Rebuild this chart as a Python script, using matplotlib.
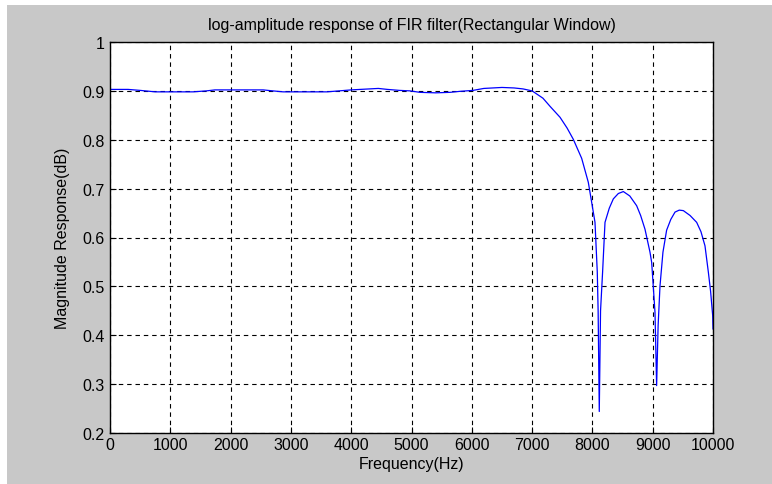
import matplotlib
matplotlib.use("Agg")
import matplotlib.pyplot as plt
from matplotlib.patches import Rectangle

plt.rcParams['font.family'] = ['Liberation Sans', 'DejaVu Sans']

freq = [0, 300, 500, 750, 1000, 1380, 1600, 1740, 2000, 2540, 2700, 2870, 3000, 3600,
        3800, 4000, 4300, 4450, 4600, 4800, 4975, 5140, 5400, 5640, 5800, 6020, 6200,
        6500, 6700, 6850, 7000, 7180, 7300, 7463, 7580, 7683, 7822, 7932, 7988, 8043,
        8071, 8081, 8095, 8114, 8135, 8169, 8209, 8280, 8347, 8430, 8513, 8620, 8734,
        8800, 8872, 8955, 8983, 9038, 9065, 9090, 9121, 9170, 9231, 9300, 9370, 9440,
        9508, 9620, 9729, 9800, 9867, 9923, 9960, 9995, 10000]
mag = [0.903, 0.903, 0.901, 0.898, 0.898, 0.898, 0.900, 0.902, 0.902, 0.902, 0.900,
       0.898, 0.898, 0.898, 0.900, 0.902, 0.904, 0.905, 0.903, 0.901, 0.900, 0.897,
       0.896, 0.897, 0.899, 0.901, 0.905, 0.907, 0.906, 0.904, 0.900, 0.885, 0.868,
       0.846, 0.824, 0.801, 0.762, 0.713, 0.672, 0.631, 0.556, 0.529, 0.450, 0.244,
       0.450, 0.529, 0.631, 0.660, 0.679, 0.690, 0.694, 0.685, 0.665, 0.645, 0.617,
       0.570, 0.549, 0.447, 0.297, 0.420, 0.501, 0.570, 0.615, 0.637, 0.652, 0.656,
       0.655, 0.645, 0.631, 0.612, 0.583, 0.529, 0.490, 0.440, 0.413]

xticks = [0, 1000, 2000, 3000, 4000, 5000, 6000, 7000, 8000, 9000, 10000]
yticks = [0.2, 0.3, 0.4, 0.5, 0.6, 0.7, 0.8, 0.9, 1.0]
yticklabels = ['0.2', '0.3', '0.4', '0.5', '0.6', '0.7', '0.8', '0.9', '1']

W, H = 772, 485
fig = plt.figure(figsize=(W / 100, H / 100), dpi=100, facecolor='white')
fig.patches.append(Rectangle((7 / W, 0), 1, 1 - 6 / H, transform=fig.transFigure,
                             facecolor='#c8c8c8', edgecolor='none', zorder=-10))

ax = fig.add_axes([110 / W, 1 - 434 / H, (713 - 110) / W, (434 - 43) / H])
ax.set_facecolor('white')
ax.plot(freq, mag, color='#0000ff', lw=0.9)

ax.set_xlim(0, 10000)
ax.set_ylim(0.2, 1.0)
ax.set_xticks(xticks)
ax.set_xticklabels([str(t) for t in xticks])
ax.set_yticks(yticks)
ax.set_yticklabels(yticklabels)
ax.tick_params(direction='in', length=4, width=0.8, labelsize=11.5, colors='black',
               pad=4)
ax.tick_params(axis='x', pad=3)
ax.grid(True, color='black', linestyle=(0, (4, 3.5)), linewidth=0.8)
for s in ax.spines.values():
    s.set_linewidth(1.0)
    s.set_color('black')

ax.set_title('log-amplitude response of FIR filter(Rectangular Window)', fontsize=11.5, pad=9)
ax.set_xlabel('Frequency(Hz)', fontsize=11.5, labelpad=3)
ax.set_ylabel('Magnitude Response(dB)', fontsize=11.5, labelpad=9)

fig.savefig('out.png', dpi=100, facecolor=fig.get_facecolor())
